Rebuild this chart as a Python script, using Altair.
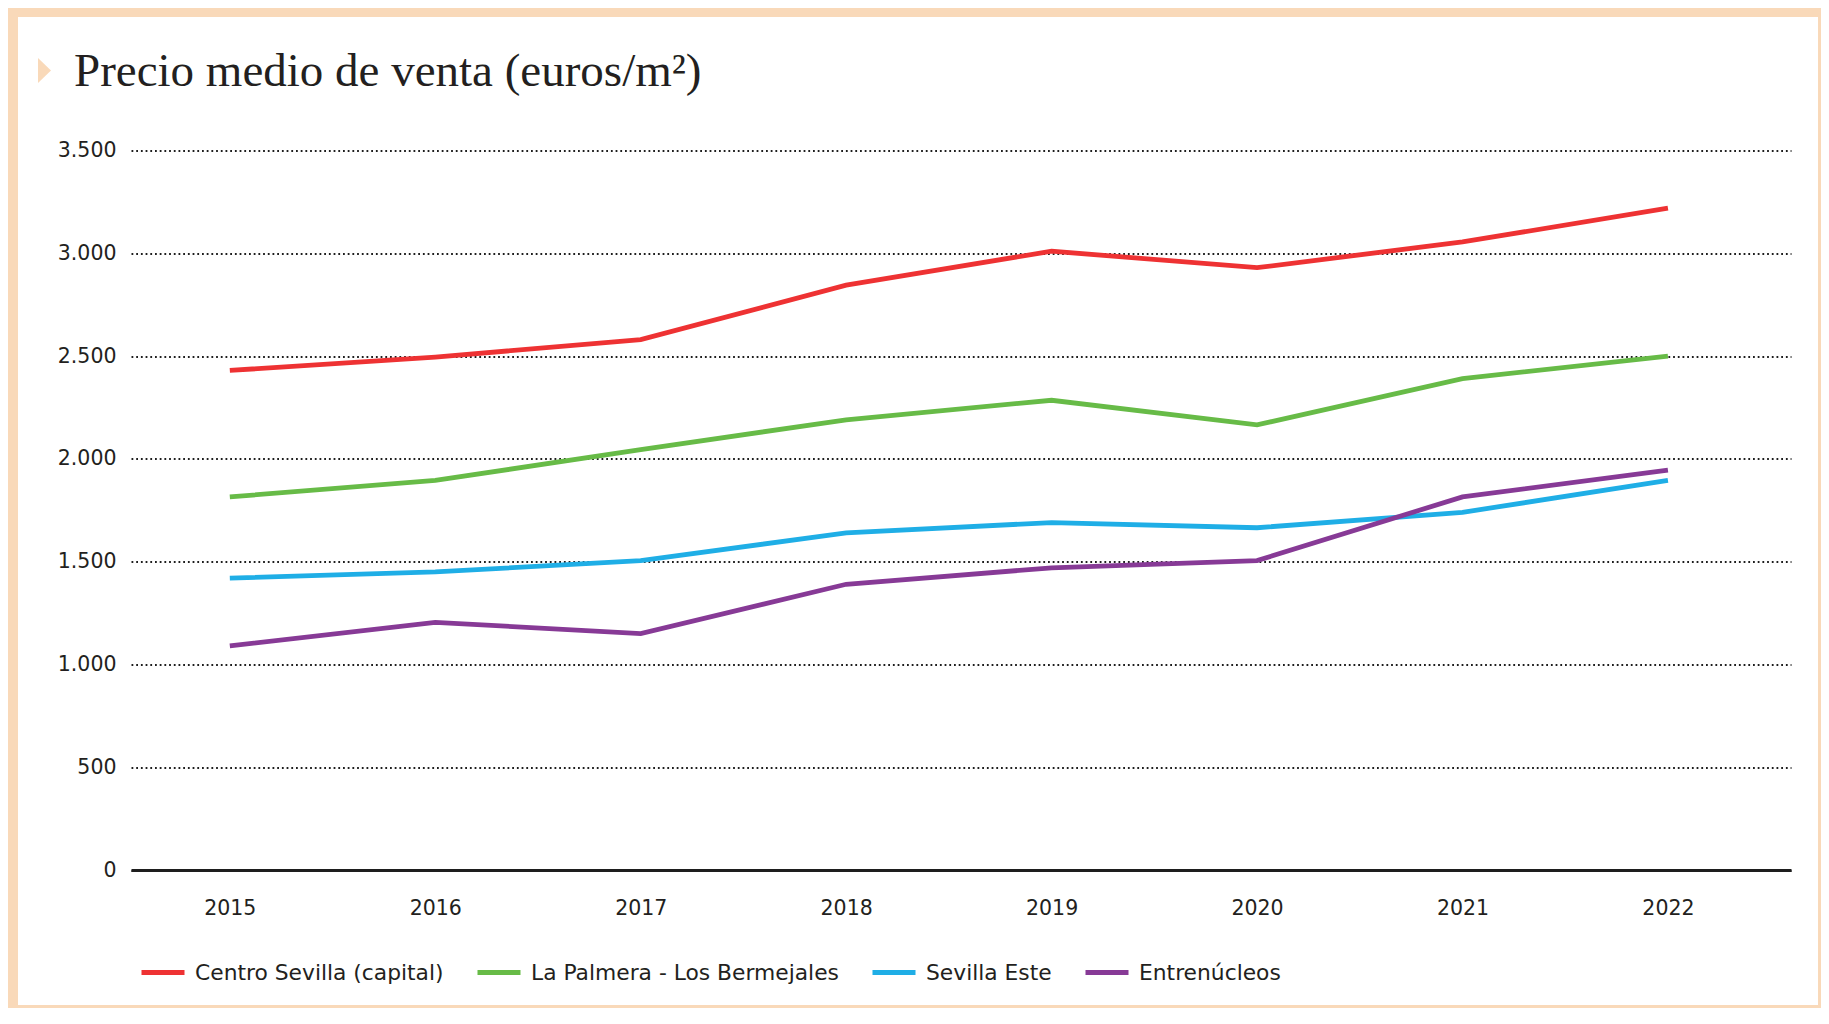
import altair as alt
import pandas as pd

years = [2015, 2016, 2017, 2018, 2019, 2020, 2021, 2022]
series_names = ["Centro Sevilla (capital)", "La Palmera - Los Bermejales", "Sevilla Este", "Entrenúcleos"]
centro = [2430, 2495, 2580, 2845, 3010, 2930, 3055, 3220]
palmera = [1815, 1895, 2045, 2190, 2285, 2165, 2390, 2500]
este = [1420, 1450, 1505, 1640, 1690, 1665, 1740, 1895]
entre = [1090, 1205, 1150, 1390, 1470, 1505, 1815, 1945]
colors = ["#EE3233", "#67BB47", "#1FAEE6", "#873A96"]
y_ticks = [0, 500, 1000, 1500, 2000, 2500, 3000, 3500]
title_text = "Precio medio de venta (euros/m²)"

rows = []
for name, vals in zip(series_names, [centro, palmera, este, entre]):
    for yr, v in zip(years, vals):
        rows.append({"year": yr, "value": v, "serie": name})
df = pd.DataFrame(rows)

W, H = 1660, 719.5
TXT = "#231F20"
FONT = "DejaVu Sans"

lines = alt.Chart(df).mark_line(strokeWidth=4.8).encode(
    x=alt.X("year:Q",
            scale=alt.Scale(domain=[2014.519, 2022.599], nice=False, zero=False),
            axis=alt.Axis(title=None, values=years, format="d", ticks=False,
                          grid=False, domain=True, domainColor="#1E1E1E",
                          domainWidth=3, labelFontSize=20.5, labelFont=FONT,
                          labelColor=TXT, labelPadding=28)),
    y=alt.Y("value:Q",
            scale=alt.Scale(domain=[0, 3500], nice=False),
            axis=alt.Axis(title=None, values=y_ticks, ticks=False, domain=False,
                          grid=True, gridColor="#1E1E1E", gridWidth=1.8,
                          gridDash=[1.8, 2.9], labelFontSize=20.5, labelFont=FONT,
                          labelColor=TXT, labelPadding=15,
                          labelExpr="replace(format(datum.value, ','), ',', '.')")),
    color=alt.Color("serie:N",
                    scale=alt.Scale(domain=series_names, range=colors),
                    sort=series_names,
                    legend=alt.Legend(title=None, orient="none", legendX=8, legendY=798,
                                      direction="horizontal", symbolType="stroke",
                                      symbolSize=1849, symbolStrokeWidth=5,
                                      labelFontSize=21.8, labelFont=FONT, labelColor=TXT,
                                      labelLimit=600, columnPadding=23, labelOffset=8,
                                      padding=0)),
)

deco = pd.DataFrame({"t": [title_text]})

frame = alt.Chart(deco).mark_rect(fillOpacity=0, stroke="#F9D9B9", strokeWidth=10).encode(
    x=alt.value(-118), x2=alt.value(1692), y=alt.value(-138.5), y2=alt.value(859.5)
)

title = alt.Chart(deco).mark_text(
    font="Liberation Serif", fontSize=47, color=TXT, align="left", baseline="alphabetic"
).encode(text="t:N", x=alt.value(-57), y=alt.value(-64.5))

tri = alt.Chart(deco).mark_point(
    shape="M-0.52,-1L0.52,0L-0.52,1Z", filled=True, fill="#F9D9B9", opacity=1,
    strokeWidth=0, size=625
).encode(x=alt.value(-86.5), y=alt.value(-80))

chart = alt.layer(frame, lines, title, tri).properties(
    width=W, height=H,
    autosize=alt.AutoSizeParams(type="none"),
    padding={"left": 123, "top": 142.5, "right": 30, "bottom": 138},
    background="white",
).configure_view(stroke=None)

chart.save("out.html", embed_options={"renderer": "svg", "actions": False})
